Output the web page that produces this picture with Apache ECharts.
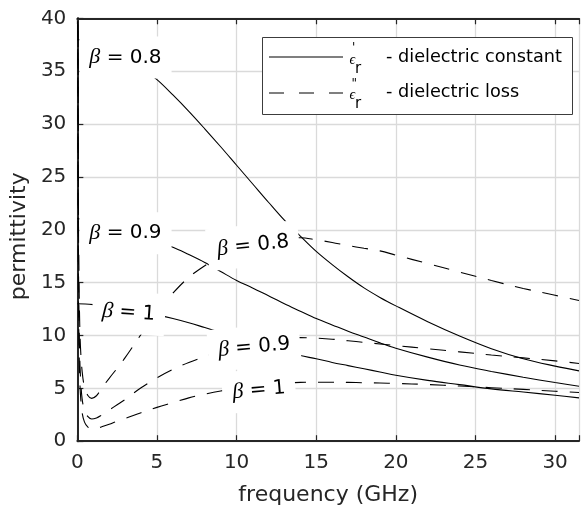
<!DOCTYPE html>
<html>
<head>
<meta charset="utf-8">
<script src="https://cdn.jsdelivr.net/npm/echarts@6/dist/echarts.min.js"></script>
<style>
  html, body { margin: 0; padding: 0; background: #fff; }
  #chart { width: 582px; height: 512px; }
</style>
</head>
<body>
<div id="chart"></div>
<script>
// Frequency grid (GHz) for the dielectric constant curves
const freqConst = [0, 0.5, 1, 2, 3, 4, 5, 6, 7, 8, 9, 10, 11, 12, 13, 14, 15, 16, 17, 18, 19, 20, 22, 24, 26, 28, 30, 31.5];
// Dielectric constant eps' for beta = 0.8, 0.9, 1
const epsConst08 = [38.0, 37.9, 37.7, 37.1, 36.3, 35.3, 34.2, 32.75, 31.2, 29.55, 27.85, 26.1, 24.35, 22.6, 20.9, 19.4, 17.95, 16.7, 15.55, 14.5, 13.6, 12.8, 11.3, 9.95, 8.75, 7.8, 7.1, 6.65];
const epsConst09 = [21.05, 20.95, 20.75, 20.3, 19.8, 19.25, 18.8, 18.35, 17.65, 16.9, 16.05, 15.2, 14.5, 13.75, 13.0, 12.3, 11.6, 11.0, 10.4, 9.85, 9.3, 8.8, 7.95, 7.2, 6.6, 6.05, 5.55, 5.2];
const epsConst10 = [13.0, 12.98, 12.92, 12.75, 12.5, 12.25, 11.95, 11.6, 11.2, 10.75, 10.3, 9.85, 9.4, 8.95, 8.5, 8.1, 7.8, 7.45, 7.15, 6.85, 6.55, 6.24, 5.75, 5.35, 4.95, 4.65, 4.35, 4.1];

// Frequency grid (GHz) for the dielectric loss curves
const freqLoss = [0.02, 0.06, 0.1, 0.15, 0.2, 0.3, 0.45, 0.65, 0.9, 1.2, 1.5, 2, 2.5, 3, 4, 5, 6, 7, 8, 9, 10, 11, 12, 13, 14, 15, 16, 17, 18, 19, 20, 22, 24, 26, 28, 30, 31.5];
// Dielectric loss eps'' for beta = 0.8, 0.9, 1
const epsLoss08 = [60, 26, 16, 11, 8.8, 6.6, 5.1, 4.35, 4.05, 4.3, 4.95, 5.95, 6.9, 7.9, 10.1, 12.2, 14.0, 15.5, 16.6, 17.5, 18.2, 18.7, 19.05, 19.25, 19.25, 19.05, 18.8, 18.5, 18.25, 18.0, 17.6, 16.8, 16.0, 15.2, 14.45, 13.8, 13.3];
const epsLoss09 = [50, 20, 12, 8.0, 6.0, 4.0, 2.9, 2.35, 2.1, 2.2, 2.45, 2.95, 3.45, 3.95, 5.05, 6.0, 6.8, 7.45, 8.0, 8.5, 8.95, 9.3, 9.6, 9.75, 9.8, 9.75, 9.65, 9.5, 9.35, 9.2, 9.05, 8.75, 8.45, 8.15, 7.88, 7.6, 7.35];
const epsLoss10 = [45, 16, 9.5, 6.0, 4.3, 2.7, 1.8, 1.35, 1.15, 1.2, 1.35, 1.6, 1.9, 2.15, 2.7, 3.2, 3.65, 4.1, 4.45, 4.75, 5.0, 5.2, 5.38, 5.5, 5.56, 5.58, 5.58, 5.56, 5.53, 5.5, 5.46, 5.36, 5.22, 5.06, 4.9, 4.73, 4.6];

// Axis ticks
const xTicks = [0, 5, 10, 15, 20, 25, 30];
const yTicks = [0, 5, 10, 15, 20, 25, 30, 35, 40];

// Inline curve tags: beta value, anchor point (GHz, permittivity), text angle in degrees
const curveTags = [
  { beta: '0.8', at: [3.02, 36.3], angle: 0 },
  { beta: '0.9', at: [3.02, 19.67], angle: 0 },
  { beta: '1',   at: [3.22, 12.15], angle: -4 },
  { beta: '0.8', at: [11.04, 18.5], angle: 6 },
  { beta: '0.9', at: [11.1, 8.9], angle: 5 },
  { beta: '1',   at: [11.4, 4.82], angle: 5 }
];

const pairs = (xs, ys) => xs.map((x, i) => [x, ys[i]]);

const ink = '#000';
const axisColor = '#262626';
const dash = [16, 12];

function curve(xs, ys, dashed) {
  return {
    type: 'line',
    data: pairs(xs, ys),
    showSymbol: false,
    smooth: 0.35,
    silent: true,
    clip: true,
    z: 2,
    lineStyle: { color: ink, width: 1.1, type: dashed ? dash : 'solid' }
  };
}

const chart = echarts.init(document.getElementById('chart'), null, { renderer: 'canvas' });

const xBase = {
  type: 'value',
  min: xTicks[0],
  max: 31.5,
  interval: 5,
  axisLine: { show: true, onZero: false, lineStyle: { color: axisColor, width: 2 } },
  axisTick: { show: true, inside: true, length: 6, lineStyle: { color: axisColor, width: 1.2 } }
};

chart.setOption({
  backgroundColor: '#fff',
  animation: false,
  grid: { left: 75.5, right: 0, top: 18.3, bottom: 70.8 },
  xAxis: [
    Object.assign({}, xBase, {
      position: 'bottom',
      name: 'frequency (GHz)',
      nameLocation: 'middle',
      nameGap: 43,
      nameTextStyle: { fontFamily: 'DejaVu Sans', fontSize: 22, color: axisColor },
      axisLabel: { fontFamily: 'DejaVu Sans', fontSize: 20, color: axisColor, margin: 12,
        formatter: v => xTicks.includes(v) ? String(v) : '' },
      splitLine: { show: true, lineStyle: { color: '#dadada', width: 1.3 } }
    }),
    Object.assign({}, xBase, {
      position: 'top',
      axisLabel: { show: false },
      splitLine: { show: false }
    })
  ],
  yAxis: {
    type: 'value',
    min: yTicks[0],
    max: yTicks[yTicks.length - 1],
    interval: 5,
    name: 'permittivity',
    nameLocation: 'middle',
    nameGap: 38,
    nameTextStyle: { fontFamily: 'DejaVu Sans', fontSize: 22, color: axisColor, padding: [0, 13, 0, 0] },
    axisLine: { show: true, lineStyle: { color: axisColor, width: 2 } },
    axisTick: { show: true, inside: true, length: 6, lineStyle: { color: axisColor, width: 1.2 } },
    axisLabel: { fontFamily: 'DejaVu Sans', fontSize: 20, color: axisColor, margin: 11 },
    splitLine: { show: true, lineStyle: { color: '#dadada', width: 1.3 } }
  },
  series: [
    curve(freqConst, epsConst08, false),
    curve(freqConst, epsConst09, false),
    curve(freqConst, epsConst10, false),
    curve(freqLoss, epsLoss08, true),
    curve(freqLoss, epsLoss09, true),
    curve(freqLoss, epsLoss10, true)
  ]
});

// Legend box with the two line styles
const legendEls = [
  { type: 'rect', z: 100, shape: { x: 262.5, y: 37.5, width: 310, height: 77 },
    style: { fill: '#fff', stroke: '#3c3c3c', lineWidth: 1 } },
  { type: 'line', z: 101, shape: { x1: 269, y1: 57, x2: 343, y2: 57 },
    style: { stroke: ink, lineWidth: 1.1 } },
  { type: 'line', z: 101, shape: { x1: 269, y1: 93, x2: 343, y2: 93 },
    style: { stroke: ink, lineWidth: 1.1, lineDash: [15, 15] } },
  { type: 'text', z: 101, x: 349.5, y: 60, style: { text: 'ϵ', font: 'italic 14px "Liberation Serif"', fill: ink, verticalAlign: 'middle' } },
  { type: 'text', z: 101, x: 352, y: 48, style: { text: "'", font: '12px "DejaVu Sans"', fill: ink, verticalAlign: 'middle' } },
  { type: 'text', z: 101, x: 355, y: 69, style: { text: 'r', font: '15px "DejaVu Sans"', fill: ink, verticalAlign: 'middle' } },
  { type: 'text', z: 101, x: 386, y: 57, style: { text: '- dielectric constant', font: '17.7px "DejaVu Sans"', fill: ink, verticalAlign: 'middle' } },
  { type: 'text', z: 101, x: 349.5, y: 95, style: { text: 'ϵ', font: 'italic 14px "Liberation Serif"', fill: ink, verticalAlign: 'middle' } },
  { type: 'text', z: 101, x: 351.5, y: 83.5, style: { text: '"', font: '12px "DejaVu Sans"', fill: ink, verticalAlign: 'middle' } },
  { type: 'text', z: 101, x: 355, y: 104, style: { text: 'r', font: '15px "DejaVu Sans"', fill: ink, verticalAlign: 'middle' } },
  { type: 'text', z: 101, x: 386, y: 92, style: { text: '- dielectric loss', font: '17.7px "DejaVu Sans"', fill: ink, verticalAlign: 'middle' } }
];

// Inline beta tags on white boxes, placed through the axis scales
const tagEls = curveTags.map(t => {
  const p = chart.convertToPixel({ xAxisIndex: 0, yAxisIndex: 0 }, t.at);
  return {
    type: 'text', z: 60, x: p[0], y: p[1],
    rotation: t.angle * Math.PI / 180,
    style: {
      text: '{g|β}{t| = ' + t.beta + '}',
      align: 'center', verticalAlign: 'middle',
      backgroundColor: '#fff',
      padding: [10, 10, 10, 10],
      rich: {
        g: { fontFamily: 'Liberation Serif', fontStyle: 'italic', fontSize: 22, fill: ink },
        t: { fontFamily: 'DejaVu Sans', fontSize: 20, fill: ink }
      }
    }
  };
});

chart.setOption({ graphic: legendEls.concat(tagEls) });
</script>
</body>
</html>
